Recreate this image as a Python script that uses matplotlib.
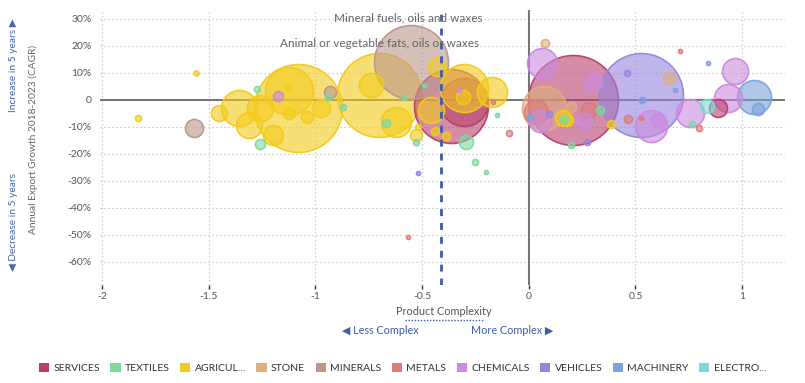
import matplotlib
matplotlib.use('Agg')
import matplotlib.pyplot as plt
from matplotlib.colors import to_rgba
from matplotlib.lines import Line2D

plt.rcParams['font.family'] = ['Lato', 'DejaVu Sans']

# sector data: complexity, 5y CAGR (%), relative export value
categories = ["SERVICES", "TEXTILES", "AGRICUL...", "STONE", "MINERALS", "METALS",
              "CHEMICALS", "VEHICLES", "MACHINERY", "ELECTRO..."]
colors = ["#B8406E", "#7ED8A0", "#F3CB1B", "#DDB07C", "#BC978C", "#DE7B7B",
          "#CC8ADE", "#9785DC", "#7CA2DB", "#7DD9D9"]

services_x = [0.206, -0.366, -0.305, 0.886]
services_y = [0, -2.2, -0.7, -3.0]
services_v = [2025, 1369, 576, 81]

textiles_x = [-1.275, -1.26, -0.94, -0.87, -0.67, -0.586, -0.53, -0.49, -0.295, -0.15,
              -0.25, -0.20, 0.333, 0.20, 0.164, 0.764]
textiles_y = [4.1, -16.3, 1.1, -2.6, -8.5, 0.7, -15.6, 5.6, -15.6, -5.6,
              -23, -26.7, -3.7, -16.7, -7.0, -8.9]
textiles_v = [9, 25, 9, 9, 16, 4, 9, 4, 49, 4, 9, 4, 16, 9, 16, 9]

agri_x = [-1.83, -1.56, -1.45, -1.36, -1.31, -1.26, -1.20, -1.08, -1.125, -1.125,
          -1.04, -0.975, -1.13, -0.70, -0.74, -0.62, -0.53, -0.52, -0.43, -0.46,
          -0.305, -0.17, -0.31, -0.44, -0.39, 0.16, 0.18, 0.385]
agri_y = [-6.7, 10, -4.8, -3.0, -9.3, -3.0, -13, -3.0, 3.3, -4.8,
          -6.3, -3.0, 4.8, 1.9, 5.6, -8.1, -13, -10, 12.2, -3.7,
          4.4, 3.0, 1.1, -11.5, -13.3, -6.7, -7.4, -8.9]
agri_v = [9, 6, 64, 324, 169, 169, 100, 1936, 576, 36,
          36, 81, 9, 1764, 144, 225, 36, 9, 81, 169,
          576, 225, 49, 16, 16, 64, 36, 16]

stone_x = [0.075, 0.07, 0.656, 0.197]
stone_y = [21.1, -3.0, 8.1, -2.6]
stone_v = [16, 484, 36, 25]

minerals_x = [-1.57, -0.553, -0.93]
minerals_y = [-10.4, 14.1, 3.0]
minerals_v = [81, 1369, 36]

metals_x = [-0.567, -0.094, -0.169, 0.464, 0.525, 0.708, 0.797, 0.033, 0.28]
metals_y = [-50.7, -12.2, -0.7, -7.0, -6.7, 18.1, -10.4, -4.4, -3.7]
metals_v = [4, 9, 4, 16, 4, 4, 9, 144, 64]

chem_x = [-1.177, -0.328, 0.061, 0.30, 0.052, 0.258, 0.572, 0.605, 0.755, 0.933, 0.966]
chem_y = [1.5, 3.7, 13.7, 6.7, -7.8, -7.8, -9.6, -7.4, -4.8, 0.7, 10.7]
chem_v = [25, 4, 225, 81, 121, 64, 256, 49, 196, 196, 169]

vehicles_x = [0.525, -0.52, 0.46, 0.272, 0.094]
vehicles_y = [1.9, -27, 10, -15.6, -5.2]
vehicles_v = [1764, 4, 9, 9, 9]

mach_x = [1.055, 1.074, 0.839, 0.684, 0.53, 0.005]
mach_y = [1.1, -3.3, 13.7, 3.7, 0, -6.3]
mach_v = [289, 36, 4, 4, 9, 9]

elec_x = [0.835]
elec_y = [-2.2]
elec_v = [49]

all_x = [services_x, textiles_x, agri_x, stone_x, minerals_x, metals_x,
         chem_x, vehicles_x, mach_x, elec_x]
all_y = [services_y, textiles_y, agri_y, stone_y, minerals_y, metals_y,
         chem_y, vehicles_y, mach_y, elec_y]
all_v = [services_v, textiles_v, agri_v, stone_v, minerals_v, metals_v,
         chem_v, vehicles_v, mach_v, elec_v]

avg_complexity = -0.41

# flatten so bigger bubbles go behind smaller ones
points = []
for ci in range(len(categories)):
    for x, y, v in zip(all_x[ci], all_y[ci], all_v[ci]):
        points.append((v, x, y, ci))
points.sort(key=lambda p: -p[0])

fig = plt.figure(figsize=(8.05, 3.83), dpi=100)
ax = fig.add_axes([0.124, 0.256, 0.851, 0.718])

ax.set_xlim(-2.01, 1.2)
ax.set_ylim(-68.5, 33.3)

for xv in [-2, -1.5, -1, -0.5, 0.5, 1]:
    ax.axvline(xv, color='#c8c8c8', lw=0.9, ls=(0, (1.2, 2)), zorder=0)
for yv in [30, 20, 10, -10, -20, -30, -40, -50, -60]:
    ax.axhline(yv, color='#c8c8c8', lw=0.9, ls=(0, (1.2, 2)), zorder=0)
ax.axhline(0, color='#777777', lw=1.5, zorder=1)
ax.axvline(0, color='#777777', lw=1.5, zorder=1)

for v, x, y, ci in points:
    c = colors[ci]
    ax.scatter(x, y, s=v * 2.07, facecolor=to_rgba(c, 0.6),
               edgecolor=to_rgba(c, 0.95), linewidth=1.2, zorder=2)

ax.axvline(avg_complexity, color='#3F5CA8', lw=2, ls=(0, (2.5, 2.5)), zorder=5)

ax.text(-0.565, 30.4, "Mineral fuels, oils and waxes", ha='center', va='center',
        fontsize=8.5, color='#666666', zorder=6)
ax.text(-0.70, 20.8, "Animal or vegetable fats, oils or waxes", ha='center', va='center',
        fontsize=8.5, color='#666666', zorder=6)

for s in ax.spines.values():
    s.set_visible(False)
ax.set_xticks([-2, -1.5, -1, -0.5, 0, 0.5, 1])
ax.set_xticklabels(["-2", "-1.5", "-1", "-0.5", "0", "0.5", "1"])
ax.set_yticks([30, 20, 10, 0, -10, -20, -30, -40, -50, -60])
ax.set_yticklabels(["30%", "20%", "10%", "0", "-10%", "-20%", "-30%", "-40%", "-50%", "-60%"])
ax.tick_params(axis='x', length=3, width=1, color='#333333', labelsize=7.5,
               labelcolor='#555555', pad=2)
ax.tick_params(axis='y', length=0, labelsize=7.5, labelcolor='#555555', pad=6)

# axis titles
fig.text(0.551, 0.187, "Product Complexity", ha='center', va='center', fontsize=7.8, color='#555555')
fig.add_artist(Line2D([0.503, 0.6], [0.165, 0.165], color='#3F5CA8', lw=1, ls=(0, (1, 1.2))))
fig.text(0.425, 0.138, "◀ Less Complex", ha='left', va='center', fontsize=7.8, color='#3F5CA8',
         family=['Lato', 'DejaVu Sans'])
fig.text(0.687, 0.138, "More Complex ▶", ha='right', va='center', fontsize=7.8, color='#3F5CA8',
         family=['Lato', 'DejaVu Sans'])

fig.text(0.041, 0.635, "Annual Export Growth 2018-2023 (CAGR)", rotation=90, ha='center',
         va='center', fontsize=7.3, color='#666666')
fig.text(0.017, 0.83, "Increase in 5 years ▶", rotation=90, ha='center', va='center',
         fontsize=7.3, color='#4A64B0', family=['Lato', 'DejaVu Sans'])
fig.text(0.017, 0.42, "◀ Decrease in 5 years", rotation=90, ha='center', va='center',
         fontsize=7.3, color='#4A64B0', family=['Lato', 'DejaVu Sans'])

handles = [plt.Rectangle((0, 0), 1, 1, facecolor=c, edgecolor='none') for c in colors]
fig.legend(handles, categories, loc='center', bbox_to_anchor=(0.5, 0.04), ncol=10,
           frameon=False, fontsize=7.5, handlelength=1.0, handleheight=1.0,
           handletextpad=0.4, columnspacing=1.0, labelcolor='#333333')

fig.savefig("out.png", dpi=100)
